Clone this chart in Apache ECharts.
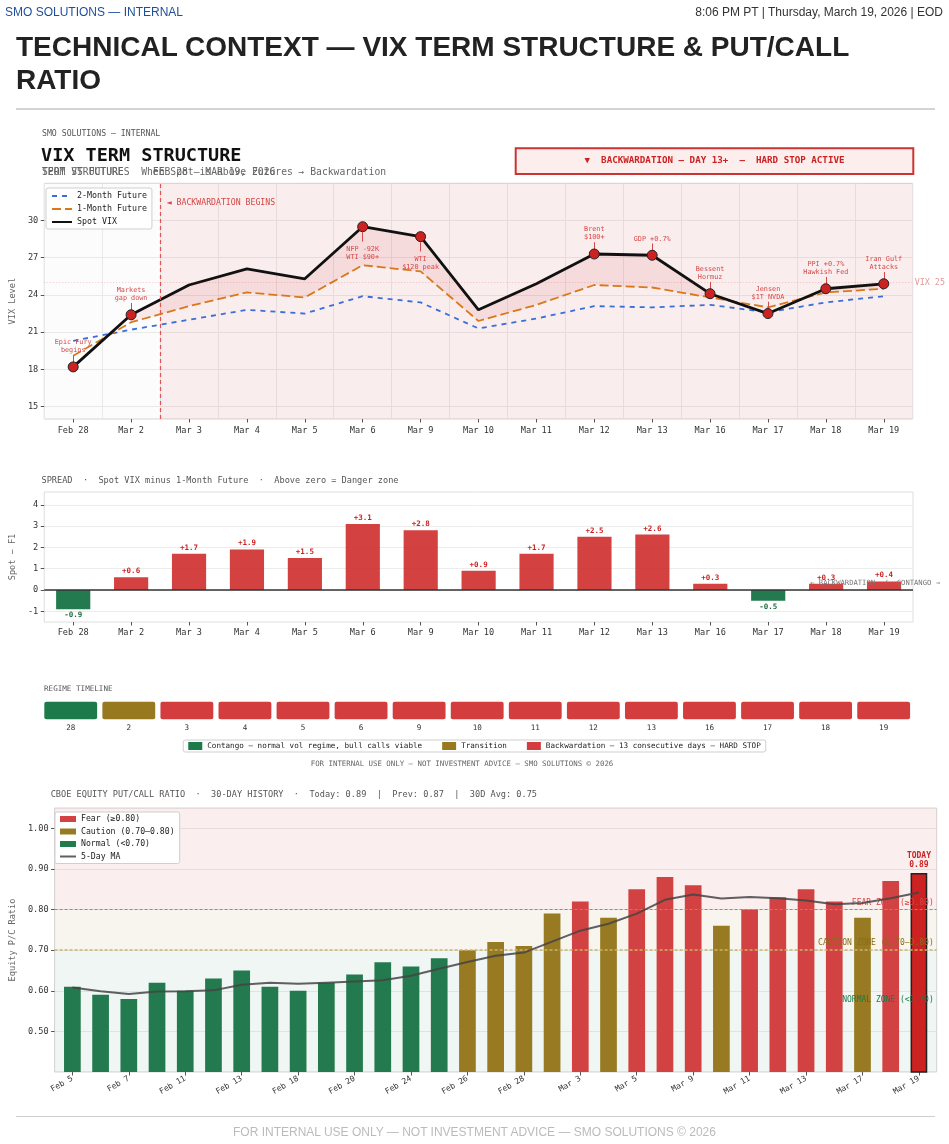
<!DOCTYPE html>
<html>
<head>
<meta charset="utf-8">
<script src="https://cdn.jsdelivr.net/npm/echarts@6/dist/echarts.min.js"></script>
<style>
  html, body { margin:0; padding:0; width:949px; height:1144px; overflow:hidden; background:#fff; }
  #chart { position:absolute; left:0; top:0; width:949px; height:1144px; }
  .hdr { position:absolute; font-family:'Liberation Sans', Arial, sans-serif; white-space:nowrap; }
</style>
</head>
<body>
<div id="chart"></div>
<div class="hdr" style="left:5px;top:5px;font-size:12px;color:#1f4e9c;">SMO SOLUTIONS — INTERNAL</div>
<div class="hdr" style="right:6px;top:5px;font-size:12px;color:#333;">8:06 PM PT | Thursday, March 19, 2026 | EOD</div>
<div class="hdr" style="left:16px;top:30px;font-size:28px;line-height:33px;font-weight:bold;color:#222;">TECHNICAL CONTEXT — VIX TERM STRUCTURE &amp; PUT/CALL<br>RATIO</div>
<div style="position:absolute;left:16px;width:919px;top:108px;height:2px;background:#d4d4d4;"></div>
<div style="position:absolute;left:16px;width:919px;top:1116px;height:1px;background:#cfcfcf;"></div>
<div class="hdr" style="left:0;width:949px;top:1125px;text-align:center;font-size:12px;color:#bbb;">FOR INTERNAL USE ONLY — NOT INVESTMENT ADVICE — SMO SOLUTIONS © 2026</div>
<script>
// ---------------- DATA ----------------
const vixDates = ['Feb 28','Mar 2','Mar 3','Mar 4','Mar 5','Mar 6','Mar 9','Mar 10','Mar 11','Mar 12','Mar 13','Mar 16','Mar 17','Mar 18','Mar 19'];
const spotVix  = [18.2, 22.4, 24.8, 26.1, 25.3, 29.5, 28.7, 22.8, 24.9, 27.3, 27.2, 24.1, 22.5, 24.5, 24.9];
const future1M = [19.1, 21.8, 23.1, 24.2, 23.8, 26.4, 25.9, 21.9, 23.2, 24.8, 24.6, 23.8, 23.0, 24.2, 24.5];
const future2M = [20.3, 21.2, 22.0, 22.8, 22.5, 23.9, 23.4, 21.3, 22.1, 23.1, 23.0, 23.2, 22.6, 23.4, 23.9];
const spreadVals = [-0.9, 0.6, 1.7, 1.9, 1.5, 3.1, 2.8, 0.9, 1.7, 2.5, 2.6, 0.3, -0.5, 0.3, 0.4];
const eventNotes = ['Epic Fury\nbegins','Markets\ngap down','','','','NFP -92K\nWTI $90+','WTI\n$120 peak','','','Brent\n$100+','GDP +0.7%','Bessent\nHormuz','Jensen\n$1T NVDA','PPI +0.7%\nHawkish Fed','Iran Gulf\nAttacks'];
const eventBelow = [false,false,false,false,false,true,true,false,false,false,false,false,false,false,false];
const yTicksVix = [15, 18, 21, 24, 27, 30];
const yTicksSpread = [-1, 0, 1, 2, 3, 4];

const regimeDays = ['28','2','3','4','5','6','9','10','11','12','13','16','17','18','19'];
const regimeStates = ['C','T','B','B','B','B','B','B','B','B','B','B','B','B','B'];
const regimeNames = {
  C: 'Contango — normal vol regime, bull calls viable',
  T: 'Transition',
  B: 'Backwardation — 13 consecutive days — HARD STOP'
};

const pcDates = ['Feb 5','Feb 6','Feb 7','Feb 10','Feb 11','Feb 12','Feb 13','Feb 17','Feb 18','Feb 19','Feb 20','Feb 23','Feb 24','Feb 25','Feb 26','Feb 27','Feb 28','Mar 2','Mar 3','Mar 4','Mar 5','Mar 6','Mar 9','Mar 10','Mar 11','Mar 12','Mar 13','Mar 16','Mar 17','Mar 18','Mar 19'];
const pcRatio = [0.61,0.59,0.58,0.62,0.60,0.63,0.65,0.61,0.60,0.62,0.64,0.67,0.66,0.68,0.70,0.72,0.71,0.79,0.82,0.78,0.85,0.88,0.86,0.76,0.80,0.83,0.85,0.82,0.78,0.87,0.89];
const pcMA5 = [0.608,0.599,0.592,0.598,0.599,0.601,0.615,0.620,0.617,0.620,0.623,0.626,0.637,0.654,0.671,0.686,0.694,0.721,0.748,0.765,0.790,0.824,0.837,0.827,0.831,0.828,0.822,0.813,0.816,0.828,0.842];
const pcLabelIdx = [0,2,4,6,8,10,12,14,16,18,20,22,24,26,28,30];
const yTicksPC = [0.5, 0.6, 0.7, 0.8, 0.9, 1.0];
const pcThresholds = { fear: 0.80, caution: 0.70 };

// ---------------- STYLE ----------------
const MONO = 'DejaVu Sans Mono';
const RED = '#d24242', GREEN = '#237a4e', OLIVE = '#977a22';
const EVT = '#d64848';

// derived
const fillDiff = spotVix.map((s, i) => (s - future1M[i] > 0 ? +(s - future1M[i]).toFixed(2) : '-'));
const eventPts = [];
const eventTicks = [];
spotVix.forEach((v, i) => {
  if (!eventNotes[i]) return;
  const below = eventBelow[i];
  eventPts.push({
    value: [i, v],
    label: {
      show: true, formatter: eventNotes[i], position: below ? 'bottom' : 'top',
      distance: below ? 13 : 7, color: EVT, fontSize: 6.8, lineHeight: 8, fontFamily: MONO, align: 'center'
    }
  });
  const a = below ? v - 0.45 : v + 0.25, b = below ? v - 1.2 : v + 0.95;
  eventTicks.push([{ coord: [i, a] }, { coord: [i, b] }]);
});

const spreadData = spreadVals.map(v => ({
  value: v,
  itemStyle: { color: v >= 0 ? 'rgba(204,34,34,0.86)' : GREEN },
  label: {
    show: true, position: v >= 0 ? 'top' : 'bottom', distance: 2,
    formatter: (v > 0 ? '+' : '') + v.toFixed(1),
    color: v >= 0 ? '#cc2222' : '#1a6b3c', fontWeight: 'bold', fontSize: 7.5, fontFamily: MONO
  }
}));

function regimeSeries(key, color) {
  return {
    type: 'bar', name: regimeNames[key], xAxisIndex: 3, yAxisIndex: 2,
    data: regimeStates.map(s => (s === key ? 1 : '-')),
    barWidth: '91%', barGap: '-100%', itemStyle: { color: color, borderRadius: 2 },
    silent: true
  };
}

const lastIdx = pcRatio.length - 1;
function pcSeries(name, test, color) {
  const data = [];
  pcRatio.forEach((v, i) => {
    if (!test(v)) return;
    if (i === lastIdx) {
      data.push({
        value: [i, v],
        itemStyle: { color: '#cc2222', borderColor: '#222', borderWidth: 1.5 },
        label: { show: true, position: 'top', distance: 4, formatter: 'TODAY\n' + v.toFixed(2),
          color: '#cc2222', fontWeight: 'bold', fontSize: 8, lineHeight: 9, fontFamily: MONO }
      });
    } else data.push([i, v]);
  });
  return { type: 'bar', name, xAxisIndex: 4, yAxisIndex: 3, data, barWidth: 16.7, barGap: '-100%',
    itemStyle: { color }, z: 3, silent: true };
}

const axisTxt = { fontFamily: MONO, color: '#333', fontSize: 8.6 };
const noLine = { show: false, onZero: false };
const yTick = vals => ({ show: true, length: 3.5, customValues: vals, lineStyle: { color: '#555' } });

const option = {
  animation: false,
  textStyle: { fontFamily: MONO },
  grid: [
    { left: 41.7, top: 183.3, width: 871, height: 235.7, show: true, backgroundColor: '#fcfcfc', borderColor: '#d5d5d5', borderWidth: 1 },
    { left: 41.5, top: 492, width: 871.5, height: 130, show: true, backgroundColor: '#fff', borderColor: '#dedede', borderWidth: 1 },
    { left: 41.7, top: 701.7, width: 871, height: 17.6 },
    { left: 50, top: 808, width: 886.7, height: 264, show: true, backgroundColor: '#fff', borderColor: '#d5d5d5', borderWidth: 1 }
  ],
  xAxis: [
    { type: 'category', gridIndex: 0, data: vixDates, boundaryGap: true,
      axisLine: noLine, axisTick: { show: true, alignWithLabel: true, length: 3.5, lineStyle: { color: '#555' } },
      axisLabel: Object.assign({ margin: 7, interval: 0 }, axisTxt), splitLine: { show: false } },
    { type: 'value', gridIndex: 0, min: -0.5, max: 14.5, interval: 1,
      axisLine: noLine, axisTick: { show: false }, axisLabel: { show: false },
      splitLine: { show: true, lineStyle: { color: '#e9e9e9', width: 1 } } },
    { type: 'category', gridIndex: 1, data: vixDates, boundaryGap: true,
      axisLine: noLine, axisTick: { show: true, alignWithLabel: true, length: 3.5, lineStyle: { color: '#555' } },
      axisLabel: Object.assign({ margin: 6, interval: 0 }, axisTxt), splitLine: { show: false } },
    { type: 'category', gridIndex: 2, data: regimeDays, boundaryGap: true,
      axisLine: noLine, axisTick: { show: false },
      axisLabel: { margin: 5, interval: 0, fontFamily: MONO, color: '#333', fontSize: 7.6 } },
    { type: 'value', gridIndex: 3, min: -0.63, max: 30.63,
      axisLine: noLine,
      axisTick: { show: true, length: 3.5, customValues: pcLabelIdx, lineStyle: { color: '#555' } },
      axisLabel: { customValues: pcLabelIdx, formatter: v => pcDates[v] || '', rotate: 30, margin: 6,
        fontFamily: MONO, color: '#333', fontSize: 8 },
      splitLine: { show: false } }
  ],
  yAxis: [
    { type: 'value', gridIndex: 0, min: 14, max: 33,
      axisLine: noLine, axisTick: yTick(yTicksVix),
      axisLabel: Object.assign({ customValues: yTicksVix, margin: 6 }, axisTxt),
      splitLine: { show: true, lineStyle: { color: '#e9e9e9' } },
      name: 'VIX Level', nameLocation: 'middle', nameGap: 24,
      nameTextStyle: { fontFamily: MONO, color: '#666', fontSize: 8.6 } },
    { type: 'value', gridIndex: 1, min: -1.5, max: 4.6,
      axisLine: noLine, axisTick: yTick(yTicksSpread),
      axisLabel: Object.assign({ customValues: yTicksSpread, margin: 6 }, axisTxt),
      splitLine: { show: true, lineStyle: { color: '#ececec' } },
      name: 'Spot − F1', nameLocation: 'middle', nameGap: 22,
      nameTextStyle: { fontFamily: MONO, color: '#666', fontSize: 8.6 } },
    { type: 'value', gridIndex: 2, min: 0, max: 1, show: false, axisLine: noLine },
    { type: 'value', gridIndex: 3, min: 0.40, max: 1.05,
      axisLine: noLine, axisTick: yTick(yTicksPC),
      axisLabel: Object.assign({ customValues: yTicksPC, margin: 6, formatter: v => v.toFixed(2) }, axisTxt),
      splitLine: { show: true, lineStyle: { color: '#ececec' } },
      name: 'Equity P/C Ratio', nameLocation: 'middle', nameGap: 31,
      nameTextStyle: { fontFamily: MONO, color: '#666', fontSize: 8.6 } }
  ],
  legend: [
    { data: ['2-Month Future', '1-Month Future', 'Spot VIX'].map(n => ({ name: n, itemStyle: { opacity: 0 } })),
      orient: 'vertical', left: 46, top: 188,
      backgroundColor: '#fff', borderColor: '#cfcfcf', borderWidth: 1, borderRadius: 2, padding: [4, 5, 3, 5],
      itemWidth: 20, itemHeight: 8, itemGap: 5, selectedMode: false,
      textStyle: { fontFamily: MONO, fontSize: 8.3, color: '#222' } },
    { data: [regimeNames.C, regimeNames.T, regimeNames.B].map(n => ({ name: n, icon: 'rect' })), orient: 'horizontal',
      left: 'center', top: 740, backgroundColor: '#fff', borderColor: '#cfcfcf', borderWidth: 1, borderRadius: 2,
      padding: [2, 5], itemWidth: 14, itemHeight: 8, itemGap: 20, selectedMode: false,
      textStyle: { fontFamily: MONO, fontSize: 7.6, color: '#222' } },
    { data: [{ name: 'Fear (≥0.80)', icon: 'rect' }, { name: 'Caution (0.70–0.80)', icon: 'rect' },
             { name: 'Normal (<0.70)', icon: 'rect' }, { name: '5-Day MA', itemStyle: { opacity: 0 } }],
      orient: 'vertical', left: 55, top: 812, backgroundColor: '#fff', borderColor: '#cfcfcf', borderWidth: 1,
      borderRadius: 2, padding: [3, 5, 3, 4], itemWidth: 16, itemHeight: 6, itemGap: 4.5, selectedMode: false,
      textStyle: { fontFamily: MONO, fontSize: 8.2, color: '#222' } }
  ],
  graphic: [
    { type: 'text', silent: true, style: { text: 'SMO SOLUTIONS — INTERNAL', x: 42, y: 134, verticalAlign: 'middle', fill: '#555', font: '8.2px "DejaVu Sans Mono"' } },
    { type: 'text', silent: true, style: { text: 'VIX TERM STRUCTURE', x: 41, y: 156.5, verticalAlign: 'middle', fill: '#111', font: 'bold 18.5px "DejaVu Sans Mono"' } },
    { type: 'text', silent: true, style: { text: 'TERM STRUCTURE     FEB 28 — MAR 19, 2026', x: 42, y: 172.5, verticalAlign: 'middle', fill: '#666', font: '9.7px "DejaVu Sans Mono"' } },
    { type: 'text', silent: true, style: { text: 'SPOT VS FUTURES  When Spot is above Futures → Backwardation', x: 42, y: 172.5, verticalAlign: 'middle', fill: '#666', font: '9.7px "DejaVu Sans Mono"' } },
    { type: 'rect', silent: true, shape: { x: 515.7, y: 148.3, width: 397.6, height: 25.7 }, style: { fill: '#fdeeee', stroke: '#cc3333', lineWidth: 2 } },
    { type: 'text', silent: true, style: { text: '▼  BACKWARDATION — DAY 13+  —  HARD STOP ACTIVE', x: 714.5, y: 161, align: 'center', verticalAlign: 'middle', fill: '#cc2222', font: 'bold 9.2px "DejaVu Sans Mono"' } },
    { type: 'text', silent: true, z: 10, style: { text: '◄ BACKWARDATION BEGINS', x: 166.7, y: 203, verticalAlign: 'middle', fill: '#d64545', font: '8.2px "DejaVu Sans Mono"' } },
    { type: 'text', silent: true, style: { text: 'SPREAD  ·  Spot VIX minus 1-Month Future  ·  Above zero = Danger zone', x: 41.5, y: 481, verticalAlign: 'middle', fill: '#555', font: '8.6px "DejaVu Sans Mono"' } },
    { type: 'text', silent: true, z: 10, style: { text: '← BACKWARDATION  /  CONTANGO →', x: 940, y: 583, align: 'right', verticalAlign: 'middle', fill: '#777', font: '7.2px "DejaVu Sans Mono"' } },
    { type: 'text', silent: true, style: { text: 'REGIME TIMELINE', x: 44, y: 689, verticalAlign: 'middle', fill: '#555', font: '7.6px "DejaVu Sans Mono"' } },
    { type: 'text', silent: true, style: { text: 'FOR INTERNAL USE ONLY — NOT INVESTMENT ADVICE — SMO SOLUTIONS © 2026', x: 462, y: 764, align: 'center', verticalAlign: 'middle', fill: '#666', font: '7.4px "DejaVu Sans Mono"' } },
    { type: 'text', silent: true, style: { text: 'CBOE EQUITY PUT/CALL RATIO  ·  30-DAY HISTORY  ·  Today: 0.89  |  Prev: 0.87  |  30D Avg: 0.75', x: 50.7, y: 795, verticalAlign: 'middle', fill: '#555', font: '8.6px "DejaVu Sans Mono"' } }
  ],
  series: [
    // ---- VIX backdrop: backwardation zone, onset line, VIX 25 reference
    { type: 'line', name: 'zone', xAxisIndex: 1, yAxisIndex: 0, data: [], silent: true, z: 1,
      markArea: { silent: true, itemStyle: { color: 'rgba(214,64,69,0.08)' }, data: [[{ xAxis: 1.5 }, { xAxis: 14.5 }]] },
      markLine: { silent: true, symbol: 'none', data: [
        { xAxis: 1.5, lineStyle: { color: '#e05555', type: [4, 3], width: 1.2 }, label: { show: false } },
        { yAxis: 25, lineStyle: { color: 'rgba(214,64,69,0.35)', type: [1, 2], width: 0.8 },
          label: { show: true, formatter: 'VIX 25', position: 'end', distance: 2, color: '#e39a9a', fontSize: 8.4, fontFamily: MONO } }
      ] } },
    { type: 'line', name: 'fillBase', xAxisIndex: 0, yAxisIndex: 0, data: future1M, stack: 'gap',
      symbol: 'none', lineStyle: { opacity: 0 }, silent: true, z: 2 },
    { type: 'line', name: 'fillDiff', xAxisIndex: 0, yAxisIndex: 0, data: fillDiff, stack: 'gap',
      symbol: 'none', lineStyle: { opacity: 0 }, areaStyle: { color: 'rgba(214,64,69,0.15)' }, silent: true, z: 2 },
    { type: 'line', name: '2-Month Future', xAxisIndex: 0, yAxisIndex: 0, data: future2M, symbol: 'none',
      color: '#3a6fd8', lineStyle: { color: '#3a6fd8', width: 1.8, type: [5, 5] }, z: 3 },
    { type: 'line', name: '1-Month Future', xAxisIndex: 0, yAxisIndex: 0, data: future1M, symbol: 'none',
      color: '#d9781a', lineStyle: { color: '#d9781a', width: 1.8, type: [9, 4] }, z: 3 },
    { type: 'line', name: 'Spot VIX', xAxisIndex: 0, yAxisIndex: 0, data: spotVix, symbol: 'none',
      color: '#111', lineStyle: { color: '#111', width: 2.8 }, z: 4 },
    { type: 'scatter', name: 'events', xAxisIndex: 0, yAxisIndex: 0, data: eventPts, symbolSize: 10,
      itemStyle: { color: '#cc2222', borderColor: '#222', borderWidth: 1, opacity: 1 }, z: 5, silent: true,
      markLine: { silent: true, symbol: 'none', lineStyle: { color: EVT, width: 1, type: 'solid' }, label: { show: false }, data: eventTicks } },

    // ---- Spread bars
    { type: 'bar', name: 'spread', xAxisIndex: 2, yAxisIndex: 1, data: spreadData, barWidth: '59%', z: 2, silent: true,
      markLine: { silent: true, symbol: 'none', label: { show: false },
        data: [{ yAxis: 0, lineStyle: { color: '#333', width: 1.6, type: 'solid' } }] } },

    // ---- Regime timeline
    regimeSeries('C', '#1c7a4b'),
    regimeSeries('T', '#977a1f'),
    regimeSeries('B', '#d33d3d'),

    // ---- Put/Call zones
    { type: 'line', name: 'pcZones', xAxisIndex: 4, yAxisIndex: 3, data: [], silent: true, z: 1,
      markArea: { silent: true, data: [
        [{ yAxis: pcThresholds.fear, itemStyle: { color: 'rgba(214,64,69,0.09)' } }, { yAxis: 1.05 }],
        [{ yAxis: pcThresholds.caution, itemStyle: { color: 'rgba(170,140,60,0.09)' } }, { yAxis: pcThresholds.fear }],
        [{ yAxis: 0.40, itemStyle: { color: 'rgba(35,122,78,0.07)' } }, { yAxis: pcThresholds.caution }]
      ] },
      markLine: { silent: true, symbol: 'none', data: [
        { yAxis: pcThresholds.fear, lineStyle: { color: '#e06a6a', type: [3, 2], width: 1 },
          label: { show: true, position: 'insideEndTop', distance: 3, formatter: 'FEAR ZONE (≥0.80)', color: '#d64545', fontSize: 8, fontFamily: MONO } },
        { yAxis: pcThresholds.caution, lineStyle: { color: '#cbb36a', type: [3, 2], width: 1.5 },
          label: { show: true, position: 'insideEndTop', distance: 3, formatter: 'CAUTION ZONE (0.70–0.80)', color: '#8a6d1a', fontSize: 8, fontFamily: MONO } },
        { yAxis: 0.564, lineStyle: { color: 'rgba(0,0,0,0)', width: 0 },
          label: { show: true, position: 'insideEndTop', distance: 3, formatter: 'NORMAL ZONE (<0.70)', color: '#1f7a4a', fontSize: 8, fontFamily: MONO } }
      ] } },
    pcSeries('Fear (≥0.80)', v => v >= pcThresholds.fear, RED),
    pcSeries('Caution (0.70–0.80)', v => v >= pcThresholds.caution && v < pcThresholds.fear, OLIVE),
    pcSeries('Normal (<0.70)', v => v < pcThresholds.caution, GREEN),
    { type: 'line', name: '5-Day MA', xAxisIndex: 4, yAxisIndex: 3, data: pcMA5.map((v, i) => [i, v]),
      symbol: 'none', color: '#555', lineStyle: { color: '#444', width: 2, opacity: 0.85 }, z: 6, silent: true }
  ]
};

const chart = echarts.init(document.getElementById('chart'), null, { renderer: 'canvas' });
chart.setOption(option);
</script>
</body>
</html>
